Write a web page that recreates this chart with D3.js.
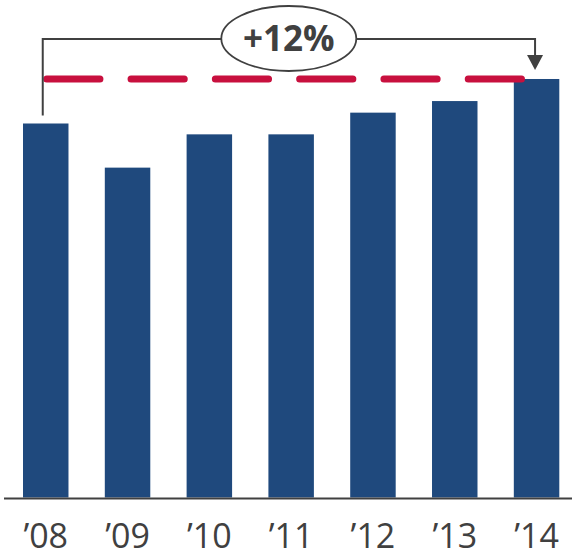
<!DOCTYPE html>
<html>
<head>
<meta charset="utf-8">
<script src="https://cdn.jsdelivr.net/npm/d3@7"></script>
<style>
  html, body { margin: 0; padding: 0; background: #fff; }
  svg { display: block; }
</style>
</head>
<body>
<svg id="chart" width="572" height="558"></svg>
<script>
const categories = ["\u201908", "\u201909", "\u201910", "\u201911", "\u201912", "\u201913", "\u201914"];
const values = [100, 88.2, 97.1, 97.1, 102.9, 106.0, 111.9];
const changeLabel = "+12%";

const svg = d3.select("#chart");
const W = 572, H = 558;
const baseY = 497.5;

const x = d3.scaleBand().domain(categories).range([23, 559.3]).paddingInner(0.444).paddingOuter(0);
const y = d3.scaleLinear().domain([0, 120]).range([baseY, baseY - 120 * 3.74]);

const navy = "#1f497d";
const grey = "#404040";
const red = "#c8103e";

// bars
svg.append("g").selectAll("rect").data(values).join("rect")
  .attr("x", (d, i) => x(categories[i]))
  .attr("y", d => y(d))
  .attr("width", x.bandwidth())
  .attr("height", d => y(0) - y(d))
  .attr("fill", navy);

// baseline axis
svg.append("line")
  .attr("x1", 4).attr("x2", W).attr("y1", baseY + 1).attr("y2", baseY + 1)
  .attr("stroke", grey).attr("stroke-width", 2);

// axis labels
const xAxis = d3.axisBottom(x).tickSize(0).tickPadding(0);
const ax = svg.append("g").attr("transform", `translate(0,${baseY})`).call(xAxis);
ax.select(".domain").remove();
ax.selectAll("text")
  .attr("y", 50.3).attr("dy", 0)
  .attr("font-family", "'Open Sans', Lato, sans-serif")
  .attr("font-size", 34)
  .attr("fill", grey);

// dashed reference line at final value
const first = categories[0], last = categories[categories.length - 1];
const xFirst = x(first) + x.bandwidth() / 2 - 3;
const xLast = x(last) + x.bandwidth() / 2 - 1.5;
const yLast = y(values[values.length - 1]);
svg.append("line")
  .attr("x1", xFirst + 4).attr("x2", 522.2)
  .attr("y1", yLast).attr("y2", yLast)
  .attr("stroke", red).attr("stroke-width", 7)
  .attr("stroke-linecap", "round")
  .attr("stroke-dasharray", "53.2,31.1");

// bracket
const bracketY = 39;
svg.append("path")
  .attr("d", `M${xFirst},${y(values[0]) - 8} V${bracketY} H${xLast} V${yLast - 14}`)
  .attr("fill", "none").attr("stroke", grey).attr("stroke-width", 2);
svg.append("path")
  .attr("d", `M${xLast - 8},${yLast - 24} L${xLast + 8},${yLast - 24} L${xLast},${yLast - 9} Z`)
  .attr("fill", grey);

// ellipse label
const cx = 288.8, cy = 38.5;
svg.append("ellipse")
  .attr("cx", cx).attr("cy", cy).attr("rx", 67.5).attr("ry", 32.5)
  .attr("fill", "#fff").attr("stroke", grey).attr("stroke-width", 1.8);
svg.append("text")
  .attr("x", cx).attr("y", 50.7)
  .attr("text-anchor", "middle")
  .attr("font-family", "'Open Sans', Lato, sans-serif")
  .attr("font-weight", "bold")
  .attr("font-size", 35)
  .attr("fill", grey)
  .text(changeLabel);
</script>
</body>
</html>
